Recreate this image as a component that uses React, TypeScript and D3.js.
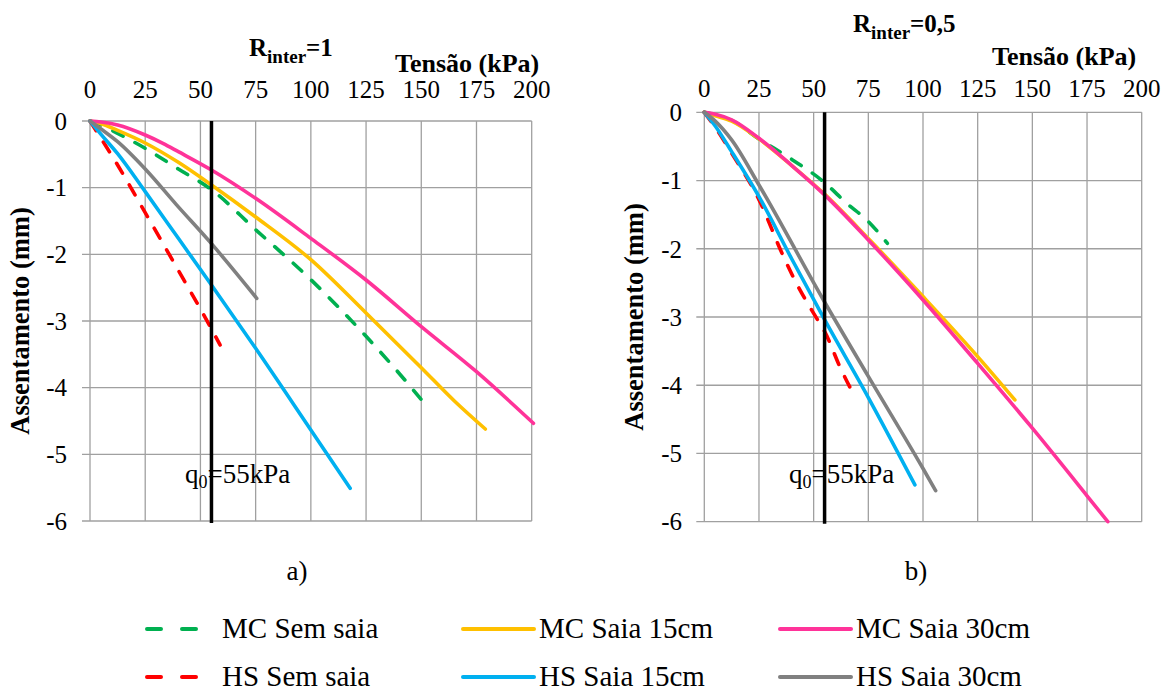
import React from "react";
import * as d3 from "d3";

type Pt = [number, number];

const xTicks = [0, 25, 50, 75, 100, 125, 150, 175, 200];
const yTicks = [0, -1, -2, -3, -4, -5, -6];
const Q0 = 55;

// R_inter = 1
const mcSem1: Pt[] = [[0, 0], [5, -0.06], [12.5, -0.185], [25, -0.41], [40, -0.72], [55, -1.03], [75, -1.63], [100, -2.38], [125, -3.23], [145, -3.98], [152.5, -4.28]];
const mc15_1: Pt[] = [[0, 0], [5, -0.04], [12.5, -0.14], [25, -0.33], [40, -0.62], [55, -0.96], [75, -1.44], [100, -2.08], [125, -2.88], [150, -3.7], [165, -4.2], [179, -4.62]];
const mc30_1: Pt[] = [[0, 0], [5, -0.015], [12.5, -0.06], [25, -0.21], [33, -0.335], [40, -0.46], [55, -0.735], [75, -1.16], [100, -1.76], [125, -2.385], [150, -3.085], [175, -3.76], [200.8, -4.535]];
const hsSem1: Pt[] = [[0, 0], [4.5, -0.235], [12.5, -0.66], [25, -1.375], [37.75, -2.11], [53.6, -3.035], [58.9, -3.36]];
const hs15_1: Pt[] = [[0, 0], [5, -0.2], [12.5, -0.49], [25, -1.06], [40, -1.76], [55, -2.46], [75, -3.41], [100, -4.635], [117.8, -5.51]];
const hs30_1: Pt[] = [[0, 0], [5, -0.12], [12.5, -0.31], [25, -0.72], [39, -1.25], [55, -1.84], [75.5, -2.66]];

// R_inter = 0,5
const mcSem2: Pt[] = [[0, 0], [5, -0.04], [12.5, -0.12], [25, -0.39], [40, -0.69], [55, -1.03], [65, -1.33], [75, -1.6], [83.7, -1.92]];
const mc15_2: Pt[] = [[0, 0], [5, -0.05], [12.5, -0.13], [25, -0.39], [40, -0.78], [55, -1.2], [75, -1.85], [100, -2.7], [125, -3.58], [142, -4.215]];
const mc30_2: Pt[] = [[0, 0], [5, -0.03], [12.5, -0.11], [25, -0.38], [40, -0.78], [55, -1.21], [75, -1.87], [100, -2.75], [125, -3.68], [150, -4.63], [175, -5.62], [184.5, -6.0]];
const hsSem2: Pt[] = [[0, 0], [5, -0.22], [12.5, -0.6], [25, -1.28], [36, -2.1], [42, -2.5], [51.4, -3.02], [55, -3.21], [62, -3.73], [69.2, -4.19]];
const hs15_2: Pt[] = [[0, 0], [5, -0.2], [12.5, -0.576], [25, -1.236], [40, -2.15], [55, -3.04], [75, -4.18], [96.3, -5.46]];
const hs30_2: Pt[] = [[0, 0], [5, -0.13], [12.5, -0.405], [25, -1.065], [55, -2.78], [75, -3.87], [100, -5.22], [105.8, -5.545]];

const seriesNames = ["MC Sem saia", "MC Saia 15cm", "MC Saia 30cm", "HS Sem saia", "HS Saia 15cm", "HS Saia 30cm"];
const seriesColors = ["#00B050", "#FFC000", "#FF3399", "#FF0000", "#00B0F0", "#808080"];
const seriesDashed = [true, false, false, true, false, false];

const panel1Data = [mcSem1, mc15_1, mc30_1, hsSem1, hs15_1, hs30_1];
const panel2Data = [mcSem2, mc15_2, mc30_2, hsSem2, hs15_2, hs30_2];

const FONT = '"Liberation Serif", "Times New Roman", Tinos, "DejaVu Serif", "Noto Serif", serif';

interface PanelProps {
  data: Pt[][];
  x0: number; x1: number; y0: number; y1: number;
  title: string; titleX: number; titleY: number;
  tensX: number; tensY: number;
  tickY: number;
  labelRight: number;
  axisTitleX: number;
  q0X: number; q0Y: number;
  letter: string; letterX: number;
}

function Panel(p: PanelProps) {
  const x = d3.scaleLinear().domain([0, 200]).range([p.x0, p.x1]);
  const y = d3.scaleLinear().domain([0, -6]).range([p.y0, p.y1]);
  const line = d3.line<Pt>().x(d => x(d[0])).y(d => y(d[1])).curve(d3.curveMonotoneX);
  const grid = "#a0a0a0";
  return (
    <g>
      {xTicks.map(t => (
        <line key={"gx" + t} x1={x(t)} x2={x(t)} y1={y(0)} y2={y(-6)} stroke={grid} strokeWidth={1.3} />
      ))}
      {yTicks.map(t => (
        <line key={"gy" + t} x1={x(0) - 8} x2={x(200)} y1={y(t)} y2={y(t)} stroke={grid} strokeWidth={1.3} />
      ))}
      {xTicks.map(t => (
        <text key={"tx" + t} x={x(t)} y={p.tickY} textAnchor="middle" fontSize={25}>{t}</text>
      ))}
      {yTicks.map(t => (
        <text key={"ty" + t} x={p.labelRight} y={y(t)} dy="0.35em" textAnchor="end" fontSize={25}>{t}</text>
      ))}
      {p.data.map((d, i) => (
        <path key={"s" + i} d={line(d) || ""} fill="none" stroke={seriesColors[i]} strokeWidth={3.6}
          strokeLinecap="round" strokeLinejoin="round"
          strokeDasharray={seriesDashed[i] ? "11.5 13.5" : undefined} />
      ))}
      <line x1={x(Q0)} x2={x(Q0)} y1={y(0)} y2={y(-6) + 2} stroke="#000" strokeWidth={3.5} />
      <text x={p.q0X} y={p.q0Y} fontSize={27}>
        q<tspan fontSize={18} dy={5}>0</tspan><tspan dy={-5}>=55kPa</tspan>
      </text>
      <text x={p.titleX} y={p.titleY} fontSize={25} fontWeight="bold">
        R<tspan fontSize={19} dy={7}>inter</tspan><tspan dy={-7}>{p.title}</tspan>
      </text>
      <text x={p.tensX} y={p.tensY} fontSize={26} fontWeight="bold">Tensão (kPa)</text>
      <text transform={`translate(${p.axisTitleX},${(p.y0 + p.y1) / 2}) rotate(-90)`} textAnchor="middle"
        fontSize={26.5} fontWeight="bold">Assentamento (mm)</text>
      <text x={p.letterX} y={580} textAnchor="middle" fontSize={27}>{p.letter}</text>
    </g>
  );
}

const legendCols = [145, 463, 780];
const legendRows = [629, 677];

export default function App() {
  return (
    <svg width={1163} height={691} style={{ display: "block", position: "absolute", left: 0, top: 0, background: "#fff", fontFamily: FONT }}>
      <rect width={1163} height={691} fill="#fff" />
      <Panel data={panel1Data} x0={90} x1={531.7} y0={121} y1={521}
        title="=1" titleX={249} titleY={56} tensX={395} tensY={72} tickY={98}
        labelRight={67} axisTitleX={29} q0X={185} q0Y={483} letter="a)" letterX={297} />
      <Panel data={panel2Data} x0={704.3} x1={1141.7} y0={112.3} y1={521.7}
        title="=0,5" titleX={853} titleY={32} tensX={992} tensY={65} tickY={97}
        labelRight={682} axisTitleX={643} q0X={789} q0Y={483} letter="b)" letterX={916} />
      {seriesNames.map((name, i) => {
        const col = i % 3;
        const row = Math.floor(i / 3);
        const lx = legendCols[col];
        const ly = legendRows[row];
        const dashed = seriesDashed[i];
        const lineEnd = dashed ? lx + 55 : lx + 71;
        const textX = dashed ? lx + 77 : lx + 76;
        return (
          <g key={"lg" + i}>
            <line x1={dashed ? lx + 2 : lx} x2={dashed ? lineEnd - 2 : lineEnd} y1={ly} y2={ly} stroke={seriesColors[i]} strokeWidth={4}
              strokeLinecap="round" strokeDasharray={dashed ? "14 21" : undefined} />
            <text x={textX} y={ly + 9} fontSize={29}>{name}</text>
          </g>
        );
      })}
    </svg>
  );
}
